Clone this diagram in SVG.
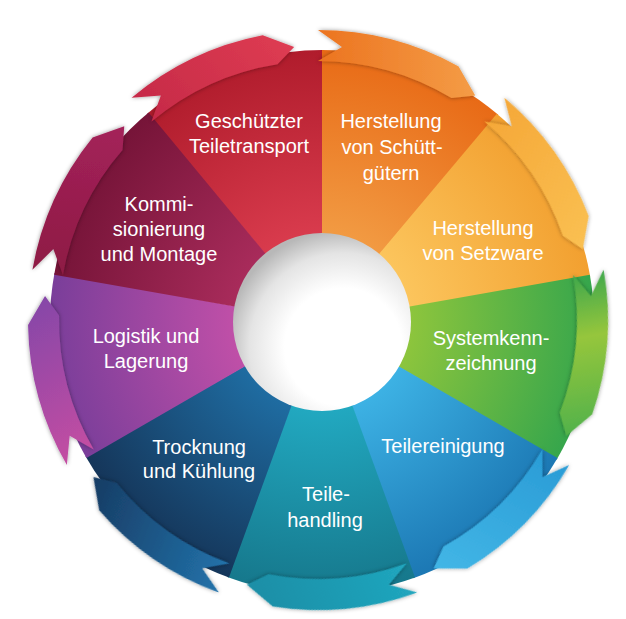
<svg xmlns="http://www.w3.org/2000/svg" width="626" height="619" viewBox="0 0 626 619">
<style>
.lbl{font-family:"Liberation Sans",Arial,sans-serif;font-size:20px;fill:#fff;text-anchor:middle}
</style>
<defs>
  <radialGradient id="gRed" gradientUnits="userSpaceOnUse" cx="322" cy="322" r="272"><stop offset="0.3" stop-color="#da3c4e"/><stop offset="1" stop-color="#b01c2c"/></radialGradient>
  <radialGradient id="gOra" gradientUnits="userSpaceOnUse" cx="322" cy="322" r="272"><stop offset="0.3" stop-color="#f29c44"/><stop offset="1" stop-color="#e86a16"/></radialGradient>
  <radialGradient id="gYel" gradientUnits="userSpaceOnUse" cx="322" cy="322" r="272"><stop offset="0.3" stop-color="#fcc65e"/><stop offset="1" stop-color="#f2a030"/></radialGradient>
  <radialGradient id="gGrn" gradientUnits="userSpaceOnUse" cx="322" cy="322" r="272"><stop offset="0.3" stop-color="#90c63c"/><stop offset="1" stop-color="#36a64c"/></radialGradient>
  <radialGradient id="gBlu" gradientUnits="userSpaceOnUse" cx="322" cy="322" r="272"><stop offset="0.3" stop-color="#3eb4e6"/><stop offset="1" stop-color="#1c78b4"/></radialGradient>
  <radialGradient id="gTeal" gradientUnits="userSpaceOnUse" cx="322" cy="322" r="272"><stop offset="0.3" stop-color="#22aac2"/><stop offset="1" stop-color="#16788c"/></radialGradient>
  <radialGradient id="gDkb" gradientUnits="userSpaceOnUse" cx="322" cy="322" r="272"><stop offset="0.3" stop-color="#1f6ea4"/><stop offset="1" stop-color="#15365a"/></radialGradient>
  <radialGradient id="gPur" gradientUnits="userSpaceOnUse" cx="322" cy="322" r="272"><stop offset="0.3" stop-color="#c250a8"/><stop offset="1" stop-color="#7a3e9a"/></radialGradient>
  <radialGradient id="gMar" gradientUnits="userSpaceOnUse" cx="322" cy="322" r="272"><stop offset="0.3" stop-color="#aa2c5c"/><stop offset="1" stop-color="#761438"/></radialGradient>

  <linearGradient id="bRed" x1="0" y1="0" x2="0" y2="1"><stop offset="0" stop-color="#c62a48"/><stop offset="1" stop-color="#de3c52"/></linearGradient>
  <linearGradient id="bOra" x1="0" y1="0" x2="0" y2="1"><stop offset="0" stop-color="#ec7420"/><stop offset="1" stop-color="#f49c46"/></linearGradient>
  <linearGradient id="bYel" x1="0" y1="0" x2="0" y2="1"><stop offset="0" stop-color="#f5a838"/><stop offset="1" stop-color="#fac052"/></linearGradient>
  <linearGradient id="bGrn" x1="0" y1="0" x2="0" y2="1"><stop offset="0" stop-color="#3fa84c"/><stop offset="0.4" stop-color="#96c63c"/><stop offset="1" stop-color="#52b24a"/></linearGradient>
  <linearGradient id="bBlu" x1="0" y1="0" x2="0" y2="1"><stop offset="0" stop-color="#2a9cd6"/><stop offset="1" stop-color="#42b6e6"/></linearGradient>
  <linearGradient id="bTeal" x1="0" y1="0" x2="0" y2="1"><stop offset="0" stop-color="#20a6be"/><stop offset="1" stop-color="#1a8ea6"/></linearGradient>
  <linearGradient id="bDkb" x1="0" y1="0" x2="0" y2="1"><stop offset="0" stop-color="#2272aa"/><stop offset="1" stop-color="#173c64"/></linearGradient>
  <linearGradient id="bPur" x1="0" y1="0" x2="0" y2="1"><stop offset="0" stop-color="#c44ea2"/><stop offset="1" stop-color="#8646a8"/></linearGradient>
  <linearGradient id="bMar" x1="0" y1="0" x2="0" y2="1"><stop offset="0" stop-color="#8e1a44"/><stop offset="1" stop-color="#a4225a"/></linearGradient>

  <radialGradient id="gHole" cx="0.62" cy="0.64" r="0.66"><stop offset="0" stop-color="#ffffff"/><stop offset="0.5" stop-color="#ffffff"/><stop offset="0.8" stop-color="#e4e4e4"/><stop offset="1" stop-color="#b8b8b8"/></radialGradient>

  <filter id="blur" x="-10%" y="-50%" width="120%" height="200%"><feGaussianBlur stdDeviation="2"/></filter>
  <filter id="bsh" x="-10%" y="-10%" width="120%" height="120%"><feDropShadow dx="0" dy="0" stdDeviation="2.2" flood-color="#000" flood-opacity="0.4"/></filter>

  <path id="body" d="M322,322 L594,322 A272,272 0 0 1 529.14,498.29 Z"/>
  <path id="edge" d="M330,324 L584,324" fill="none" stroke="#000" stroke-opacity="0.18" stroke-width="4" filter="url(#blur)"/>
  <path id="band" d="M608,320 A290,290 0 0 1 571.64,460.60 L542.45,477.16 L540.01,453.39 A259,259 0 0 0 577,320 L590.96,343.88 Z"/>
</defs>

<rect width="626" height="619" fill="#fff"/>

<g id="n-geschuetzter-teiletransport">
  <use href="#body" fill="url(#gRed)" transform="rotate(-130 322 322)"/>
  <use href="#edge" transform="rotate(-130 322 322)"/>
  <text class="lbl" x="249" y="128">Geschützter</text>
  <text class="lbl" x="249" y="153">Teiletransport</text>
</g>
<g id="n-herstellung-schuettgueter">
  <use href="#body" fill="url(#gOra)" transform="rotate(-90 322 322)"/>
  <use href="#edge" transform="rotate(-90 322 322)"/>
  <text class="lbl" x="391" y="128">Herstellung</text>
  <text class="lbl" x="392" y="154">von Schütt-</text>
  <text class="lbl" x="391" y="180">gütern</text>
</g>
<g id="n-herstellung-setzware">
  <use href="#body" fill="url(#gYel)" transform="rotate(-50 322 322)"/>
  <use href="#edge" transform="rotate(-50 322 322)"/>
  <text class="lbl" x="483" y="235">Herstellung</text>
  <text class="lbl" x="483" y="260">von Setzware</text>
</g>
<g id="n-systemkennzeichnung">
  <use href="#body" fill="url(#gGrn)" transform="rotate(-10 322 322)"/>
  <use href="#edge" transform="rotate(-10 322 322)"/>
  <text class="lbl" x="491" y="345">Systemkenn-</text>
  <text class="lbl" x="491" y="370">zeichnung</text>
</g>
<g id="n-teilereinigung">
  <use href="#body" fill="url(#gBlu)" transform="rotate(30 322 322)"/>
  <use href="#edge" transform="rotate(30 322 322)"/>
  <text class="lbl" x="443" y="453">Teilereinigung</text>
</g>
<g id="n-teilehandling">
  <use href="#body" fill="url(#gTeal)" transform="rotate(70 322 322)"/>
  <use href="#edge" transform="rotate(70 322 322)"/>
  <text class="lbl" x="326" y="501">Teile-</text>
  <text class="lbl" x="325" y="527">handling</text>
</g>
<g id="n-trocknung-kuehlung">
  <use href="#body" fill="url(#gDkb)" transform="rotate(110 322 322)"/>
  <use href="#edge" transform="rotate(110 322 322)"/>
  <text class="lbl" x="199" y="454">Trocknung</text>
  <text class="lbl" x="199" y="478">und Kühlung</text>
</g>
<g id="n-logistik-lagerung">
  <use href="#body" fill="url(#gPur)" transform="rotate(150 322 322)"/>
  <use href="#edge" transform="rotate(150 322 322)"/>
  <text class="lbl" x="146" y="343">Logistik und</text>
  <text class="lbl" x="146" y="368">Lagerung</text>
</g>
<g id="n-kommissionierung-montage">
  <use href="#body" fill="url(#gMar)" transform="rotate(190 322 322)"/>
  <use href="#edge" transform="rotate(190 322 322)"/>
  <text class="lbl" x="159" y="211">Kommi-</text>
  <text class="lbl" x="159" y="236">sionierung</text>
  <text class="lbl" x="159" y="261">und Montage</text>
</g>

<g id="hub">
  <circle cx="322" cy="322" r="89" fill="url(#gHole)"/>
</g>

<g id="connectors" filter="url(#bsh)">
  <use href="#band" fill="url(#bRed)" transform="rotate(-130 318 320)"/>
  <use href="#band" fill="url(#bOra)" transform="rotate(-90 318 320)"/>
  <use href="#band" fill="url(#bYel)" transform="rotate(-50 318 320)"/>
  <use href="#band" fill="url(#bGrn)" transform="rotate(-10 318 320)"/>
  <use href="#band" fill="url(#bBlu)" transform="rotate(30 318 320)"/>
  <use href="#band" fill="url(#bTeal)" transform="rotate(70 318 320)"/>
  <use href="#band" fill="url(#bDkb)" transform="rotate(110 318 320)"/>
  <use href="#band" fill="url(#bPur)" transform="rotate(150 318 320)"/>
  <use href="#band" fill="url(#bMar)" transform="rotate(190 318 320)"/>
</g>
</svg>
